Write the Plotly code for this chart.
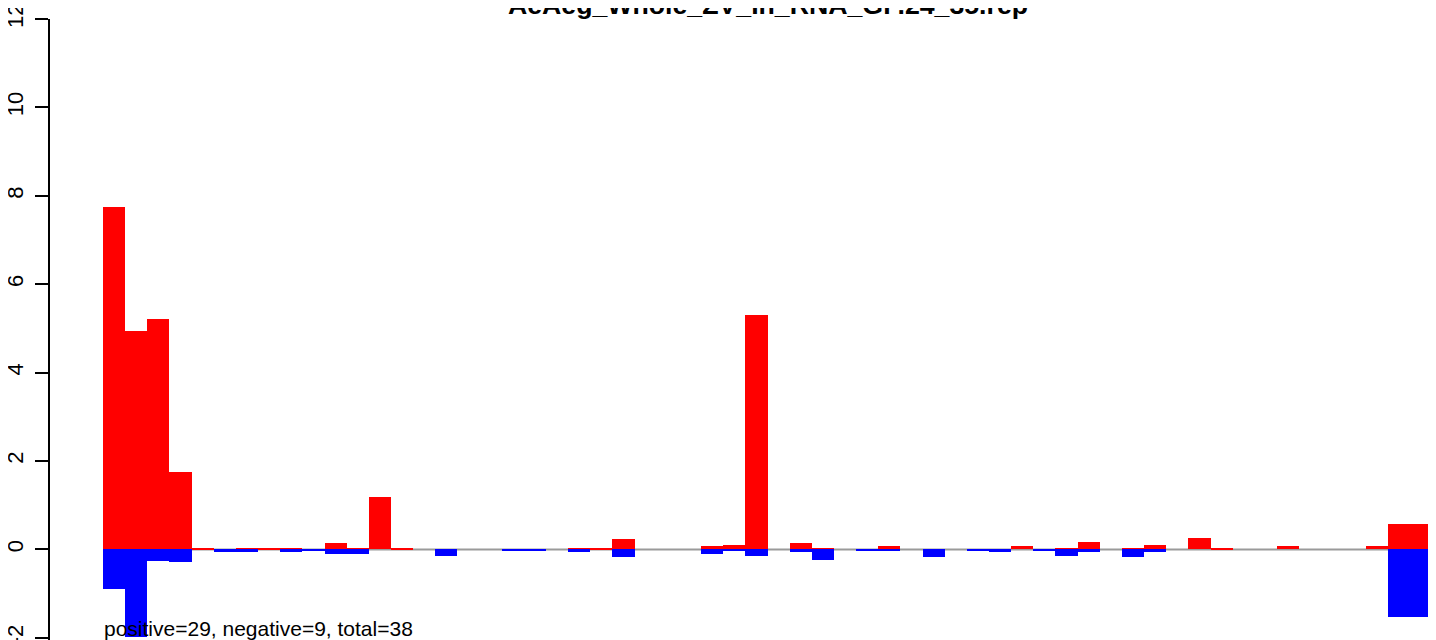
import plotly.graph_objects as go

# bin index along the x axis (60 equal bins)
bins = list(range(60))

pos_values = [7.75, 4.94, 5.21, 1.75, 0.02, 0.0, 0.02, 0.02, 0.02, 0.0,
              0.14, 0.02, 1.19, 0.02, 0.0, 0.0, 0.0, 0.0, 0.0, 0.0,
              0.0, 0.02, 0.02, 0.23, 0.0, 0.0, 0.0, 0.07, 0.09, 5.31,
              0.0, 0.14, 0.02, 0.0, 0.0, 0.07, 0.0, 0.0, 0.0, 0.0,
              0.0, 0.07, 0.0, 0.02, 0.16, 0.0, 0.02, 0.09, 0.0, 0.25,
              0.02, 0.0, 0.0, 0.07, 0.0, 0.0, 0.0, 0.07, 0.57, 0.57]

neg_values = [-0.90, -1.98, -0.27, -0.29, 0.0, -0.07, -0.07, 0.0, -0.07, -0.04,
              -0.11, -0.11, 0.0, 0.0, 0.0, -0.14, 0.0, 0.0, -0.04, -0.04,
              0.0, -0.07, 0.0, -0.18, 0.0, 0.0, 0.0, -0.11, -0.04, -0.14,
              0.0, -0.07, -0.23, 0.0, -0.04, -0.04, 0.0, -0.18, 0.0, -0.04,
              -0.07, 0.0, -0.04, -0.14, -0.07, 0.0, -0.18, -0.07, 0.0, 0.0,
              0.0, 0.0, 0.0, 0.0, 0.0, 0.0, 0.0, 0.0, -1.52, -1.52]

y_ticks = [-2, 0, 2, 4, 6, 8, 10, 12]
y_tick_labels = ["-2", "0", "2", "4", "6", "8", "10", "12"]

title_text = "AeAeg_Whole_ZV_In_RNA_GP.24_35.rep"
summary_text = "positive=29, negative=9, total=38"

FONT = "Liberation Sans, Arial, Helvetica, sans-serif"

# the page body adds an 8px offset, so the figure is sized to fill the rest
W, H = 1428, 632

fig = go.Figure()
fig.add_trace(go.Bar(x=bins, y=pos_values, width=1.0,
                     marker=dict(color="#FF0000", line=dict(width=0)),
                     showlegend=False, hoverinfo="skip"))
fig.add_trace(go.Bar(x=bins, y=neg_values, width=1.0,
                     marker=dict(color="#0000FF", line=dict(width=0)),
                     showlegend=False, hoverinfo="skip"))

fig.add_shape(type="line", xref="x", yref="y", x0=bins[0] - 0.5, x1=bins[-1] + 0.5,
              y0=0, y1=0, line=dict(color="#9a9a9a", width=2), layer="below")

fig.add_annotation(text=summary_text, xref="x", yref="paper", x=bins[0] - 0.5, y=0,
                   xanchor="left", yanchor="bottom", yshift=-1, showarrow=False,
                   font=dict(family=FONT, size=21, color="black"), borderpad=0)

fig.update_layout(
    width=W, height=H,
    margin=dict(l=42, r=0, t=11, b=0, autoexpand=False),
    paper_bgcolor="white", plot_bgcolor="white",
    barmode="overlay", bargap=0,
    title=dict(text="<b>" + title_text + "</b>", x=760 / W, xanchor="center",
               xref="container", yref="container", y=1 - 6 / H, yanchor="bottom",
               automargin=False,
               font=dict(family=FONT, size=26.7, color="black")),
    font=dict(family=FONT, color="black"),
)

fig.update_xaxes(range=[-2.893, 59.68], visible=False, showgrid=False, zeroline=False,
                 automargin=False)
fig.update_yaxes(range=[-2.05, 12], tickvals=y_ticks, ticktext=y_tick_labels,
                 tickangle=-90, ticks="outside", ticklen=13, tickwidth=1.5,
                 tickcolor="black", showline=True, linecolor="black", linewidth=1.5,
                 showgrid=False, zeroline=False, ticklabelstandoff=3, automargin=False,
                 ticklabeloverflow="allow",
                 tickfont=dict(family=FONT, size=22, color="black"))

fig.write_html("out.html")
